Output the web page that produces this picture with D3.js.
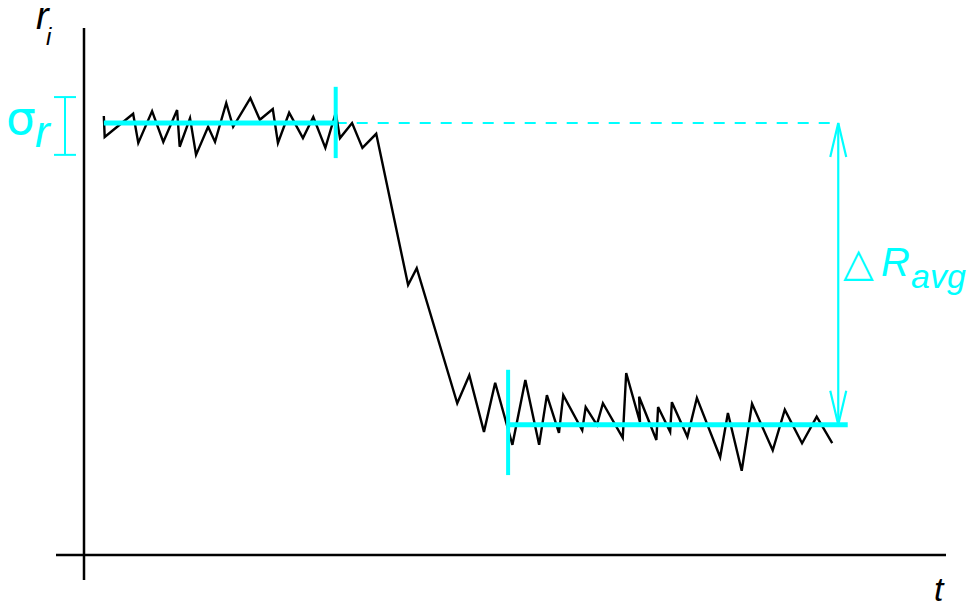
<!DOCTYPE html>
<html>
<head>
<meta charset="utf-8">
<script src="https://cdn.jsdelivr.net/npm/d3@7"></script>
<style>
  body { margin: 0; background: #fff; }
  text { font-family: "Liberation Sans", Arial, sans-serif; }
</style>
</head>
<body>
<svg id="chart" width="972" height="607"></svg>
<script>
// Sampled response r_i over time t
const times = [
  2.3, 2.4, 5.7, 6.3, 7.9, 9.2, 10.8, 11.1, 12.3, 13.0, 14.4, 15.2, 16.5, 17.3,
  19.3, 20.4, 21.9, 22.5, 23.8, 25.4, 26.6, 28.0, 29.2, 29.7, 31.1, 32.3, 33.9,
  37.6, 38.6, 43.3, 44.7, 46.4, 47.7, 49.7, 51.2, 52.8, 53.7, 55.1, 55.6, 57.8,
  58.2, 59.5, 60.2, 62.5, 62.9, 64.5, 64.4, 66.4, 66.6, 68.0, 68.2, 70.0, 71.1,
  73.8, 74.7, 76.3, 77.5, 79.9, 81.3, 83.3, 85.0, 86.8
];
const responses = [
  8.13, 7.74, 8.17, 7.63, 8.22, 7.65, 8.24, 7.56, 8.09, 7.41, 7.93, 7.65, 8.37, 7.93,
  8.46, 8.06, 8.26, 7.63, 8.19, 7.72, 8.11, 7.54, 8.19, 7.72, 8.00, 7.54, 7.80,
  5.00, 5.31, 2.81, 3.33, 2.28, 3.19, 2.04, 3.24, 2.04, 2.96, 2.26, 2.96, 2.31,
  2.74, 2.41, 2.81, 2.17, 3.37, 2.46, 2.93, 2.13, 2.74, 2.28, 2.83, 2.19, 2.91,
  1.81, 2.63, 1.56, 2.80, 1.94, 2.69, 2.07, 2.56, 2.07
];

// Average levels before and after the step, with the spans they cover
const levelValues = [8.0, 2.41];
const levelStart = [2.3, 49.2];
const levelEnd = [29.2, 88.6];

// Window markers at the start/end of the averaging windows
const markerTimes = [29.2, 49.2];
const markerLow = [7.35, 1.48];
const markerHigh = [8.67, 3.43];

// Noise band shown beside the r axis
const sigmaLow = 7.41;
const sigmaHigh = 8.48;

// Time at which the level difference is measured
const deltaTime = 87.5;

const CYAN = "#00ffff";

const svg = d3.select("#chart");
const x = d3.scaleLinear().domain([0, 100]).range([84, 946]);
const y = d3.scaleLinear().domain([0, 10]).range([555, 15]);

// Axes: two plain crossing lines
svg.append("line")
  .attr("x1", x(0)).attr("x2", x(0))
  .attr("y1", 28).attr("y2", y(0) + 25)
  .attr("stroke", "#000").attr("stroke-width", 2.5);
svg.append("line")
  .attr("x1", x(0) - 28).attr("x2", x(100))
  .attr("y1", y(0)).attr("y2", y(0))
  .attr("stroke", "#000").attr("stroke-width", 2.5);

// Axis labels
const rLabel = svg.append("text").attr("x", 36).attr("y", 29)
  .attr("font-style", "italic").attr("font-size", 38).attr("fill", "#000");
rLabel.append("tspan").text("r");
rLabel.append("tspan").attr("x", 46).attr("y", 45).attr("font-size", 24).text("i");

svg.append("text").attr("x", 934).attr("y", 601)
  .attr("font-style", "italic").attr("font-size", 34).attr("fill", "#000").text("t");

// Dashed reference from the first level to the measurement point
svg.append("line")
  .attr("x1", x(markerTimes[0])).attr("x2", x(deltaTime))
  .attr("y1", y(levelValues[0])).attr("y2", y(levelValues[0]))
  .attr("stroke", CYAN).attr("stroke-width", 2)
  .attr("stroke-dasharray", "11,10");

// Response trace
const pts = times.map((t, i) => [t, responses[i]]);
svg.append("path")
  .datum(pts)
  .attr("d", d3.line().x(d => x(d[0])).y(d => y(d[1])))
  .attr("fill", "none").attr("stroke", "#000")
  .attr("stroke-width", 2.4).attr("stroke-linejoin", "miter");

// Average level lines
svg.selectAll("line.level")
  .data(levelValues)
  .join("line").attr("class", "level")
  .attr("x1", (d, i) => x(levelStart[i])).attr("x2", (d, i) => x(levelEnd[i]))
  .attr("y1", d => y(d)).attr("y2", d => y(d))
  .attr("stroke", CYAN).attr("stroke-width", 5);

// Window markers
svg.selectAll("line.marker")
  .data(markerTimes)
  .join("line").attr("class", "marker")
  .attr("x1", d => x(d)).attr("x2", d => x(d))
  .attr("y1", (d, i) => y(markerHigh[i])).attr("y2", (d, i) => y(markerLow[i]))
  .attr("stroke", CYAN).attr("stroke-width", 4);

// Double-headed arrow between the two levels
const ax = x(deltaTime);
const yTop = y(levelValues[0]);
const yBot = y(levelValues[1]);
const headLen = 34, headHalf = 8;
const arrow = svg.append("g").attr("stroke", CYAN).attr("stroke-width", 2.2).attr("fill", "none");
arrow.append("line").attr("x1", ax).attr("x2", ax).attr("y1", yTop).attr("y2", yBot);
arrow.append("path").attr("d",
  `M${ax - headHalf},${yTop + headLen}L${ax},${yTop}L${ax + headHalf},${yTop + headLen}`);
arrow.append("path").attr("d",
  `M${ax - headHalf},${yBot - headLen}L${ax},${yBot}L${ax + headHalf},${yBot - headLen}`);

// Delta R_avg label
const dl = svg.append("text").attr("fill", CYAN);
dl.append("tspan").attr("x", 843).attr("y", 276)
  .attr("font-family", "DejaVu Sans").attr("font-size", 40).text("△");
dl.append("tspan").attr("x", 881).attr("y", 276)
  .attr("font-style", "italic").attr("font-size", 40).text("R");
dl.append("tspan").attr("x", 911).attr("y", 288)
  .attr("font-style", "italic").attr("font-size", 34).text("avg");

// Sigma bracket beside the r axis
const bx = 65, capHalf = 11;
const br = svg.append("g").attr("stroke", CYAN).attr("stroke-width", 2);
br.append("line").attr("x1", bx).attr("x2", bx).attr("y1", y(sigmaHigh)).attr("y2", y(sigmaLow));
br.append("line").attr("x1", bx - capHalf).attr("x2", bx + capHalf).attr("y1", y(sigmaHigh)).attr("y2", y(sigmaHigh));
br.append("line").attr("x1", bx - capHalf).attr("x2", bx + capHalf).attr("y1", y(sigmaLow)).attr("y2", y(sigmaLow));

const sl = svg.append("text").attr("fill", CYAN);
sl.append("tspan").attr("x", 6).attr("y", 134)
  .attr("font-family", "DejaVu Sans").attr("font-size", 47).text("σ");
sl.append("tspan").attr("x", 35).attr("y", 147)
  .attr("font-style", "italic").attr("font-size", 44).text("r");
</script>
</body>
</html>
